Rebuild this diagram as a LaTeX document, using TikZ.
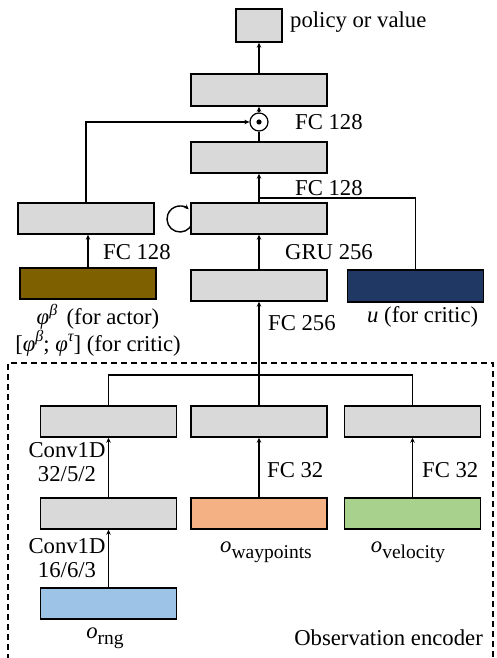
\documentclass[tikz,border=0pt]{standalone}
\usepackage{fontspec}
\setmainfont{Liberation Serif}
\usetikzlibrary{arrows.meta}
\definecolor{boxgray}{HTML}{D9D9D9}
\definecolor{phibrown}{HTML}{7F6000}
\definecolor{unavy}{HTML}{1F3864}
\definecolor{rngblue}{HTML}{9DC3E6}
\definecolor{wporange}{HTML}{F4B183}
\definecolor{velgreen}{HTML}{A9D18E}
\newcommand\mysub[1]{\raisebox{-0.28em}{\fontsize{19.5}{19.5}\selectfont #1}}
\newcommand\mysup[1]{\raisebox{0.42em}{\fontsize{16}{16}\selectfont\itshape #1}}
\tikzset{
  every node/.style={font=\fontsize{22.7}{24}\selectfont},
  blk/.style={draw=black, line width=1.4pt, fill=boxgray, minimum width=136pt, minimum height=31pt, inner sep=0pt},
  lbl/.style={inner sep=0pt},
  conn/.style={line width=1.4pt},
  arr/.style={line width=1.4pt, -{Stealth[length=5pt,width=4.5pt]}},
}
\begin{document}
\begin{tikzpicture}[x=1pt,y=1pt]
\useasboundingbox (0,0) rectangle (497,-658);
% observation encoder frame
\draw[line width=1.2pt, dash pattern=on 6pt off 4pt] (8,-660) -- (8,-363) -- (493,-363) -- (493,-660);

% top part
\node[blk, minimum width=46pt, minimum height=33pt] (out) at (259,-25.5) {};
\node[blk, minimum height=32pt] (fc2) at (259,-90) {};
\node[circle, draw=black, line width=1.2pt, fill=white, minimum size=18pt, inner sep=0pt] (dot) at (259,-122) {};
\fill (dot.center) circle (2.6pt);
\node[blk] (fc1) at (259,-157.5) {};
% self loop (drawn before GRU box so the box covers its right part)
\coordinate (loopc) at (180,-219);
\draw[arr] ([shift={(-20:13pt)}]loopc) arc[start angle=-20, end angle=-312, radius=13pt];
\node[blk] (gru) at (259,-218.5) {};
\node[blk] (lfc) at (86,-218.5) {};
\node[blk, fill=phibrown] (phi) at (88,-283.5) {};
\node[blk] (fc256) at (259,-285.5) {};
\node[blk, fill=unavy, minimum height=32pt] (u) at (415.5,-286) {};

% encoder
\node[blk] (ea) at (108.5,-421.5) {};
\node[blk] (eb) at (259,-421.5) {};
\node[blk] (ec) at (412.5,-421.5) {};
\node[blk] (ea2) at (108.5,-513.5) {};
\node[blk, fill=wporange] (wp) at (259,-513.5) {};
\node[blk, fill=velgreen] (vel) at (412.5,-513.5) {};
\node[blk, fill=rngblue] (rng) at (108.5,-603.5) {};

% connectors
\coordinate (bar) at (259,-375);
\coordinate (join) at (259,-198);
\coordinate (lturn) at (86,-122);
\draw[arr] (fc2.north) -- (out.south);
\draw[arr] (dot.north) -- (fc2.south);
\draw[conn] (fc1.north) -- (dot.south);
\draw[arr] (gru.north) -- (fc1.south);
\draw[conn] (u.north) -- (u.north |- join) -- (join);
\draw[arr] (lfc.north) -- (lturn) -- (dot.west);
\draw[arr] (phi.north) -- (phi.north |- lfc.south);
\draw[arr] (fc256.north) -- (gru.south);
\draw[arr] (bar) -- (fc256.south);
\draw[conn] (ea.north) -- (ea.north |- bar) -- (ec.north |- bar) -- (ec.north);
\draw[conn] (eb.north) -- (bar);
\draw[arr] (ea2.north) -- (ea.south);
\draw[arr] (wp.north) -- (eb.south);
\draw[arr] (vel.north) -- (ec.south);
\draw[arr] (rng.north) -- (ea2.south);

% labels
\node[lbl, anchor=west] (tpol) at (290,-22) {policy or value};
\node[lbl, anchor=west] (tfc2) at (295,-122) {FC 128};
\node[lbl, anchor=west] (tfc1) at (295,-188) {FC 128};
\node[lbl, anchor=west] (tlfc) at (103,-252) {FC 128};
\node[lbl, anchor=west] (tgru) at (285,-252) {GRU 256};
\node[lbl, align=center] (tphi) at (98,-330) {\textit{φ}\mysup{β}\, (for actor)\\{}[\textit{φ}\mysup{β}; \textit{φ}\mysup{τ}] (for critic)};
\node[lbl, anchor=west] (tfc256) at (268,-323) {FC 256};
\node[lbl, anchor=west] (tu) at (367,-317) {\textit{u} (for critic)};
\node[lbl, align=center] (tc2) at (67,-462) {Conv1D\\32/5/2};
\node[lbl, align=center] (tc1) at (67,-558) {Conv1D\\16/6/3};
\node[lbl, anchor=west] (tfcb) at (267,-470) {FC 32};
\node[lbl, anchor=west] (tfcc) at (422,-470) {FC 32};
\node[lbl] (two) at (266,-552) {\textit{o}\mysub{waypoints}};
\node[lbl] (tvo) at (408,-552) {\textit{o}\mysub{velocity}};
\node[lbl] (tro) at (105,-638) {\textit{o}\mysub{rng}};
\node[lbl, anchor=east] (tenc) at (483,-638) {Observation encoder};
\end{tikzpicture}
\end{document}
